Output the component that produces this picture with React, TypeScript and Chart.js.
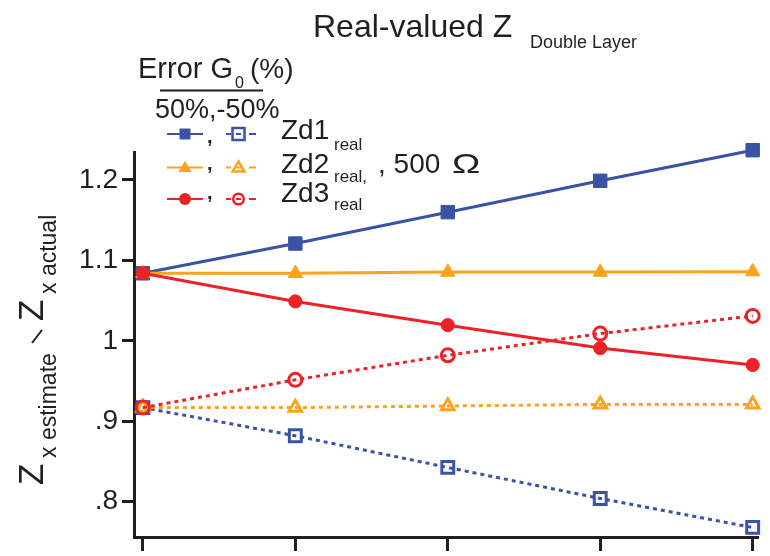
import React, { useEffect, useRef } from 'react';
import { Chart, registerables } from 'chart.js';

Chart.register(...registerables);

const FONT = '"Liberation Sans", Arial, Helvetica, sans-serif';
const INK = '#231F20';
const BLUE = '#3A53A4';
const ORANGE = '#F8A51D';
const RED = '#EC2227';

// x positions (no labels on the x axis in the reference)
const xPositions = [0, 1, 2, 3, 4];

// +50 % error in G0 (solid, filled markers)
const zd1Plus = [1.084, 1.121, 1.16, 1.199, 1.237];
const zd2Plus = [1.084, 1.084, 1.0855, 1.0855, 1.086];
const zd3Plus = [1.084, 1.049, 1.0195, 0.991, 0.97];
// -50 % error in G0 (dotted, open markers)
const zd1Minus = [0.917, 0.882, 0.8426, 0.804, 0.768];
const zd2Minus = [0.917, 0.917, 0.919, 0.921, 0.921];
const zd3Minus = [0.917, 0.9515, 0.982, 1.009, 1.031];

const yTickValues = [0.8, 0.9, 1.0, 1.1, 1.2];
const yTickLabels = ['.8', '.9', '1', '1.1', '1.2'];

const titleMain = 'Real-valued Z';
const titleSub = 'Double Layer';
const legendHeader = ['Error G', '0', '(%)'];
const legendSubHeader = '50%,-50%';
const seriesNames = ['Zd1', 'Zd2', 'Zd3'];
const seriesSubs = ['real', 'real,', 'real'];
const legendSuffix = ', 500 ';
const legendOhm = 'Ω';
const yTitleParts = ['Z', 'x estimate', 'Z', 'x actual'];

function pts(vals: number[]) {
  return vals.map((v, i) => ({ x: xPositions[i], y: v }));
}

function drawMarker(ctx: CanvasRenderingContext2D, kind: string, cx: number, cy: number, r: number, color: string, open: boolean) {
  ctx.save();
  ctx.beginPath();
  if (kind === 'rect') {
    ctx.rect(cx - r, cy - r, 2 * r, 2 * r);
  } else if (kind === 'triangle') {
    const h = r * 1.8;
    ctx.moveTo(cx, cy - h * 0.6);
    ctx.lineTo(cx + r * 1.05, cy + h * 0.4);
    ctx.lineTo(cx - r * 1.05, cy + h * 0.4);
    ctx.closePath();
  } else {
    ctx.arc(cx, cy, r, 0, Math.PI * 2);
  }
  if (open) {
    ctx.lineWidth = 2.5;
    ctx.strokeStyle = color;
    ctx.stroke();
  } else {
    ctx.fillStyle = color;
    ctx.fill();
  }
  ctx.restore();
}

function seg(ctx: CanvasRenderingContext2D, x1: number, x2: number, y: number, color: string) {
  ctx.save();
  ctx.strokeStyle = color;
  ctx.lineWidth = 2;
  ctx.beginPath();
  ctx.moveTo(x1, y);
  ctx.lineTo(x2, y);
  ctx.stroke();
  ctx.restore();
}

function txt(ctx: CanvasRenderingContext2D, s: string, x: number, y: number, size: number) {
  ctx.font = `${size}px ${FONT}`;
  ctx.fillStyle = INK;
  ctx.textAlign = 'left';
  ctx.textBaseline = 'alphabetic';
  ctx.fillText(s, x, y);
}

function rotTxt(ctx: CanvasRenderingContext2D, s: string, x: number, y: number, size: number) {
  ctx.save();
  ctx.translate(x, y);
  ctx.rotate(-Math.PI / 2);
  txt(ctx, s, 0, 0, size);
  ctx.restore();
}

const decorPlugin = {
  id: 'decor',
  afterDraw(chart: any) {
    const ctx: CanvasRenderingContext2D = chart.ctx;
    ctx.save();
    // Title
    txt(ctx, titleMain, 313, 37, 32);
    txt(ctx, titleSub, 530, 48, 18);

    // Legend header
    txt(ctx, legendHeader[0], 138, 78, 29);
    txt(ctx, legendHeader[1], 235, 88, 16);
    txt(ctx, legendHeader[2], 250, 78, 28);
    ctx.strokeStyle = INK;
    ctx.lineWidth = 2;
    ctx.beginPath();
    ctx.moveTo(160, 90.5);
    ctx.lineTo(263, 90.5);
    ctx.stroke();
    txt(ctx, legendSubHeader, 155, 118, 27);

    // Legend rows
    const rows = [
      { y: 134, color: BLUE, kind: 'rect', rs: 5.5, ro: 6, comma: 143, base: 138.5, subBase: 150 },
      { y: 167.5, color: ORANGE, kind: 'triangle', rs: 6.2, ro: 5.6, comma: 170, base: 172.7, subBase: 182 },
      { y: 199, color: RED, kind: 'circle', rs: 6, ro: 5.3, comma: 199, base: 201.7, subBase: 209.5 },
    ];
    rows.forEach((r, i) => {
      seg(ctx, 167, 203, r.y, r.color);
      drawMarker(ctx, r.kind, 185, r.y, r.rs, r.color, false);
      ctx.font = `bold 20px ${FONT}`;
      ctx.fillStyle = INK;
      ctx.fillText(',', 207, r.comma);
      seg(ctx, 226, 231, r.y, r.color);
      seg(ctx, 236, 241, r.y, r.color);
      seg(ctx, 249, 256, r.y, r.color);
      drawMarker(ctx, r.kind, 238.5, r.y, r.ro, r.color, true);
      txt(ctx, seriesNames[i], 281, r.base, 28);
      txt(ctx, seriesSubs[i], 334, r.subBase, 17);
    });
    txt(ctx, legendSuffix, 378, 172.7, 28);
    ctx.save();
    ctx.translate(452, 172.7);
    ctx.scale(1.35, 1);
    txt(ctx, legendOhm, 0, 0, 28);
    ctx.restore();

    // Y-axis title (rotated)
    rotTxt(ctx, yTitleParts[0], 43, 485, 35);
    rotTxt(ctx, yTitleParts[1], 56, 458, 23);
    ctx.strokeStyle = INK;
    ctx.lineWidth = 2;
    ctx.beginPath();
    ctx.moveTo(32, 343);
    ctx.lineTo(42, 330);
    ctx.stroke();
    rotTxt(ctx, yTitleParts[2], 43, 321, 35);
    rotTxt(ctx, yTitleParts[3], 56, 294, 23);
    ctx.restore();
  },
};

export default function App() {
  const ref = useRef<HTMLCanvasElement | null>(null);
  useEffect(() => {
    document.body.style.margin = '0';
    const canvas = ref.current;
    if (!canvas) return;
    const common = { clip: false as any, fill: false, tension: 0 };
    const chart = new Chart(canvas, {
      type: 'line',
      data: {
        datasets: [
          { ...common, data: pts(zd3Plus), borderColor: RED, borderWidth: 3, pointStyle: 'circle', pointRadius: 6.6, pointBackgroundColor: RED, pointBorderColor: RED, pointBorderWidth: 1 },
          { ...common, data: pts(zd3Minus), borderColor: RED, borderWidth: 3, borderDash: [4, 4], pointStyle: 'circle', pointRadius: 6.5, pointBackgroundColor: 'rgba(255,255,255,0)', pointBorderColor: RED, pointBorderWidth: 3 },
          { ...common, data: pts(zd2Plus), borderColor: ORANGE, borderWidth: 3, pointStyle: 'triangle', pointRadius: 8.3, pointBackgroundColor: ORANGE, pointBorderColor: ORANGE, pointBorderWidth: 1 },
          { ...common, data: pts(zd2Minus), borderColor: ORANGE, borderWidth: 3, borderDash: [4, 4], pointStyle: 'triangle', pointRadius: 7.3, pointBackgroundColor: 'rgba(255,255,255,0)', pointBorderColor: ORANGE, pointBorderWidth: 3 },
          { ...common, data: pts(zd1Plus), borderColor: BLUE, borderWidth: 3, pointStyle: 'rect', pointRadius: 9.5, pointBackgroundColor: BLUE, pointBorderColor: BLUE, pointBorderWidth: 1 },
          { ...common, data: pts(zd1Minus), borderColor: BLUE, borderWidth: 3, borderDash: [4, 4], pointStyle: 'rect', pointRadius: 8.4, pointBackgroundColor: 'rgba(255,255,255,0)', pointBorderColor: BLUE, pointBorderWidth: 3 },
        ] as any,
      },
      options: {
        animation: false,
        responsive: false,
        devicePixelRatio: 1,
        layout: { padding: { top: 152, right: 2, left: 0, bottom: 0 } },
        plugins: { legend: { display: false }, title: { display: false }, tooltip: { enabled: false } },
        scales: {
          x: {
            type: 'linear',
            min: -0.0582,
            max: 4.0388,
            afterBuildTicks: (s: any) => { s.ticks = xPositions.map((v) => ({ value: v })); },
            ticks: { display: false },
            grid: { display: true, drawOnChartArea: false, drawTicks: true, tickLength: 14, tickWidth: 3, tickColor: INK, color: INK },
            border: { display: true, width: 3, color: INK },
            afterFit: (s: any) => { s.height = 19; s.paddingLeft = 0; s.paddingRight = 0; },
          },
          y: {
            type: 'linear',
            min: 0.7561,
            max: 1.2348,
            afterBuildTicks: (s: any) => { s.ticks = yTickValues.map((v) => ({ value: v })); },
            ticks: {
              autoSkip: false,
              padding: 4,
              color: INK,
              font: { family: FONT, size: 28 },
              callback: (_v: any, i: number) => yTickLabels[i],
            },
            grid: { display: true, drawOnChartArea: false, drawTicks: true, tickLength: 12, tickWidth: 3, tickColor: INK, color: INK },
            border: { display: true, width: 3, color: INK },
            afterFit: (s: any) => { s.width = 134; s.paddingTop = 0; s.paddingBottom = 0; },
          },
        },
      } as any,
      plugins: [decorPlugin],
    });
    return () => chart.destroy();
  }, []);
  return (
    <div style={{ width: 770, height: 556 }}>
      <canvas ref={ref} width={770} height={556} style={{ display: 'block' }} />
    </div>
  );
}
